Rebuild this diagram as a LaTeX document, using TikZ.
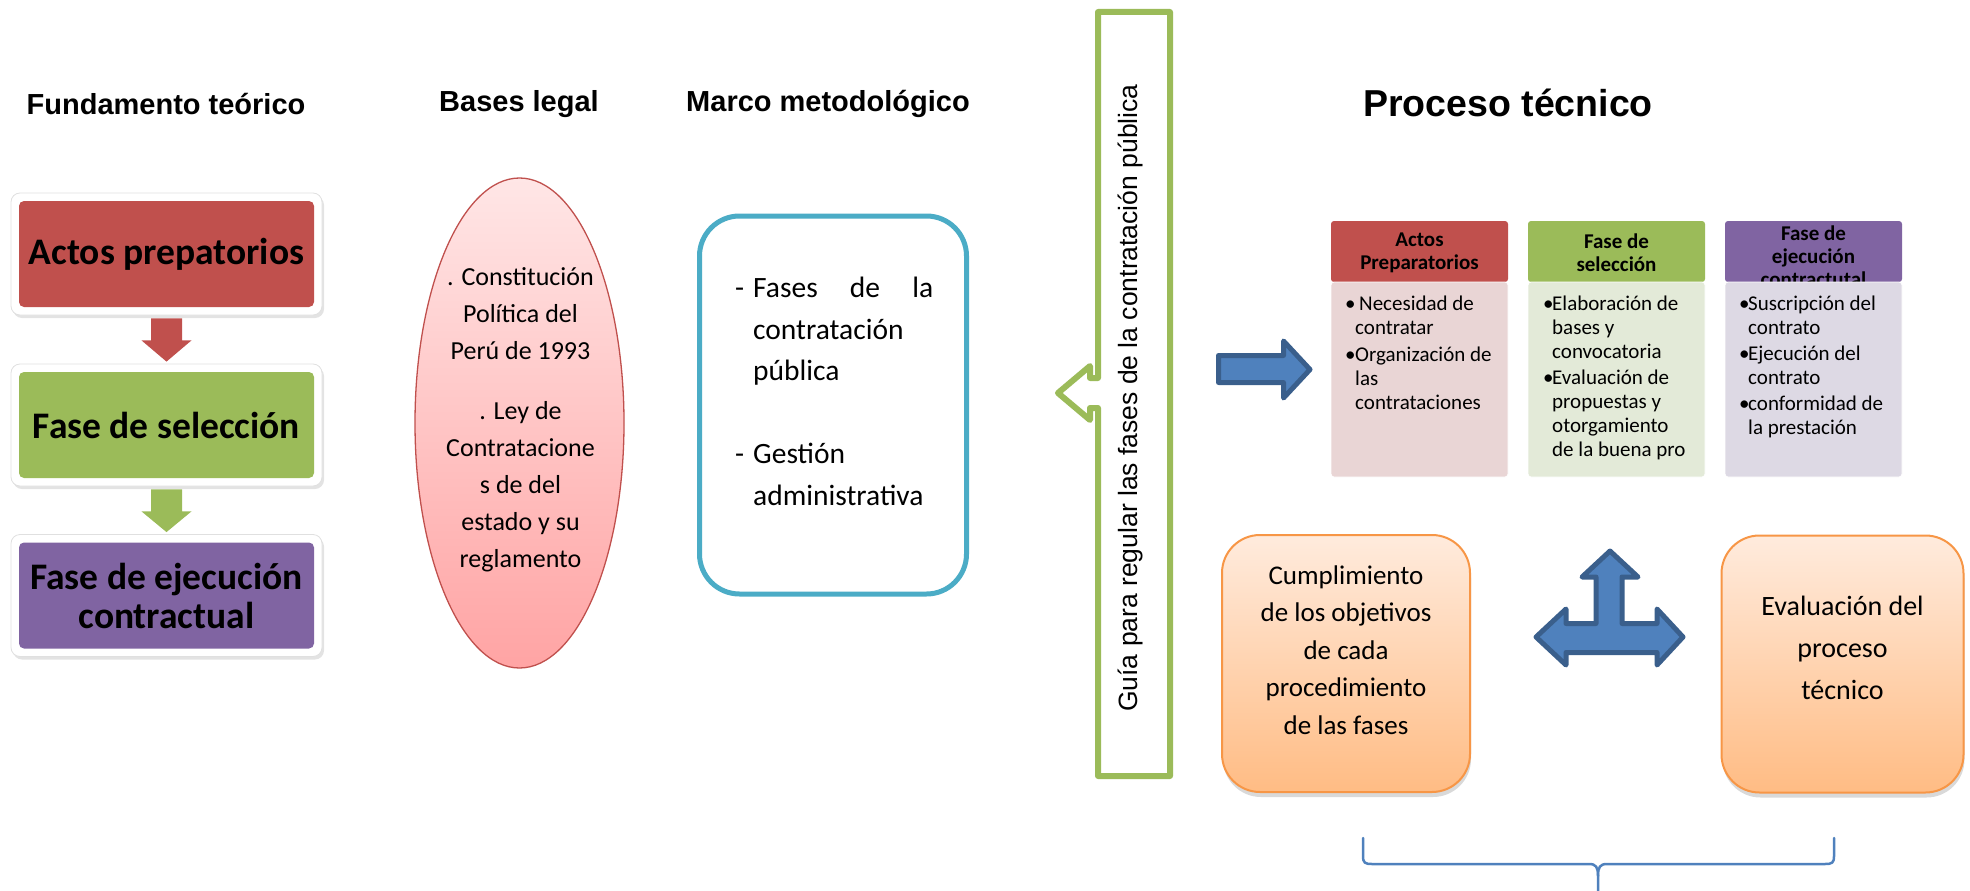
\documentclass[tikz,border=0pt]{standalone}
\usepackage{fontspec}
\newfontfamily\carlito{Carlito}
\newfontfamily\arialf{Liberation Sans}
\usetikzlibrary{shapes.geometric,shadows,calc}
\definecolor{redc}{HTML}{C0504D}
\definecolor{greenc}{HTML}{9BBB59}
\definecolor{purplec}{HTML}{8064A2}
\definecolor{cyanc}{HTML}{4BACC6}
\definecolor{bluef}{HTML}{4F81BD}
\definecolor{blued}{HTML}{3A5F8C}
\definecolor{orangec}{HTML}{F79646}
\definecolor{redbody}{HTML}{E9D5D5}
\definecolor{greenbody}{HTML}{E3EAD8}
\definecolor{purplebody}{HTML}{DDD9E4}
\definecolor{pinktop}{HTML}{FFE6E6}
\definecolor{pinkbot}{HTML}{FFA4A4}
\definecolor{orangetop}{HTML}{FFEBDD}
\definecolor{orangebot}{HTML}{FFBC84}
\newcommand\blockdown[3]{\fill[#1] ($(#2.south)+(-15.5,3)$) -- ($(#2.south)+(15.5,3)$) -- ($(#2.south)+(15.5,25)$) -- ($(#2.south)+(25,25)$) -- ($(#3.north)+(0,-2)$) -- ($(#2.south)+(-25,25)$) -- ($(#2.south)+(-15.5,25)$) -- cycle;}
\begin{document}
\begin{tikzpicture}[x=1pt,y=-1pt,
 title/.style={font=\arialf\bfseries\fontsize{29}{34}\selectfont, inner sep=0},
 frame/.style={fill=white, draw=black!12, line width=0.8pt, rounded corners=9pt, minimum width=311pt, minimum height=122pt, inner sep=0, drop shadow={shadow xshift=2pt, shadow yshift=-3pt, opacity=0.22}},
 lbox/.style={rounded corners=5pt, minimum width=295pt, minimum height=106pt, inner sep=0, align=center, font=\carlito\bfseries\fontsize{37.5}{39}\selectfont},
 hdr/.style={minimum width=177pt, minimum height=61pt, rounded corners=3pt, inner sep=0},
 htext/.style={font=\carlito\bfseries\fontsize{21}{23}\selectfont, align=center, inner sep=0},
 bodyb/.style={minimum width=177pt, minimum height=195pt, rounded corners=3pt, inner sep=0, draw=white, line width=0.8pt},
 btext/.style={font=\carlito\fontsize{21}{24}\selectfont, align=left, inner sep=0, anchor=north west},
 obox/.style={draw=orangec, line width=2pt, rounded corners=38pt, top color=orangetop, bottom color=orangebot, minimum width=248pt, minimum height=257pt, inner sep=0, drop shadow={shadow xshift=1pt, shadow yshift=-5pt, opacity=0.3}},
 otext/.style={font=\carlito\fontsize{27}{37.5}\selectfont, align=center, inner sep=0},
 bigarrow/.style={fill=bluef, draw=blued, line width=5pt, line join=round}
]
\useasboundingbox (0,0) rectangle (1970,891);

% titles
\node[title] (tf) at (166,104) {Fundamento teórico};
\node[title] (tb) at (519,104) {Bases legal};
\node[title] (tm) at (828,104) {Marco metodológico};
\node[title, font=\arialf\bfseries\fontsize{37.5}{44}\selectfont] (tp) at (1508,103) {Proceso técnico};

% left column
\node[frame] (f1) at (166.5,254) {};
\node[lbox, fill=redc] (b1) at (f1.center) {Actos prepatorios};
\node[frame] (f2) at (166.5,425) {};
\node[lbox, fill=greenc] (b2) at (f2.center) {Fase de selección};
\node[frame] (f3) at (166.5,595.5) {};
\node[lbox, fill=purplec] (b3) at (f3.center) {Fase de ejecución\\contractual};
\blockdown{redc}{f1}{f2}
\blockdown{greenc}{f2}{f3}

% ellipse
\node[ellipse, draw=redc, line width=1.3pt, top color=pinktop, bottom color=pinkbot, minimum width=209pt, minimum height=490pt, inner sep=0] (el) at (519.5,423) {};
\node[font=\carlito\fontsize{26}{37}\selectfont, align=center, inner sep=0] (elt) at (520.5,420) {. Constitución\\Política del\\Perú de 1993\\[23pt]. Ley de\\Contratacione\\s de del\\estado y su\\reglamento};

% marco box
\node[draw=cyanc, line width=5pt, rounded corners=40pt, minimum width=267pt, minimum height=378pt, fill=white, inner sep=0] (mb) at (833,405) {};
\node[anchor=north west, inner sep=0, text width=198pt, align=left, font=\carlito\fontsize{29.5}{41.5}\selectfont] (mt) at (735,277) {\makebox[18pt][l]{-}Fases\hfill de\hfill la\\\hspace*{18pt}contratación\\\hspace*{18pt}pública\\[41.5pt]\makebox[18pt][l]{-}Gestión\\\hspace*{18pt}administrativa};

% green callout
\draw[greenc, line width=6pt, line join=round, fill=white] (1098,12) -- (1170,12) -- (1170,776) -- (1098,776) -- (1098,408) -- (1090,408) -- (1090,420) -- (1058,393) -- (1090,366) -- (1090,378) -- (1098,378) -- cycle;
\node[rotate=90, anchor=base, font=\arialf\fontsize{26.5}{30}\selectfont, inner sep=0] (gt) at (1137,398) {Guía para regular las fases de la contratación pública};

% right arrow
\draw[bigarrow] (1218.5,355.5) -- (1283.5,355.5) -- (1283.5,341) -- (1310,369.5) -- (1283.5,398) -- (1283.5,382.5) -- (1218.5,382.5) -- cycle;

% table
\node[hdr, fill=redc] (h1) at (1419.5,251.5) {};
\node[hdr, fill=greenc] (h2) at (1616.5,251.5) {};
\node[hdr, fill=purplec] (h3) at (1813.5,251.5) {};
\node[htext] (h1t) at (1419.5,253) {Actos\\Preparatorios};
\node[htext] (h2t) at (1616.5,253) {Fase de\\selección};
\node[htext] (h3t) at (1813.5,256) {Fase de\\ejecución\\contractutal};
\node[bodyb, fill=redbody] (d1) at (1419.5,379.5) {};
\node[bodyb, fill=greenbody] (d2) at (1616.5,379.5) {};
\node[bodyb, fill=purplebody] (d3) at (1813.5,379.5) {};
\node[btext] (d1t) at (1345,296) {\makebox[14pt][l]{\textbullet}Necesidad de\\\hspace*{10pt}contratar\\[3pt]\makebox[10pt][l]{\textbullet}Organización de\\\hspace*{10pt}las\\\hspace*{10pt}contrataciones};
\node[btext] (d2t) at (1543,296) {\makebox[9pt][l]{\textbullet}Elaboración de\\\hspace*{9pt}bases y\\\hspace*{9pt}convocatoria\\[2pt]\makebox[9pt][l]{\textbullet}Evaluación de\\\hspace*{9pt}propuestas y\\\hspace*{9pt}otorgamiento\\\hspace*{9pt}de la buena pro};
\node[btext] (d3t) at (1739,296) {\makebox[9pt][l]{\textbullet}Suscripción del\\\hspace*{9pt}contrato\\[2pt]\makebox[9pt][l]{\textbullet}Ejecución del\\\hspace*{9pt}contrato\\[2pt]\makebox[9pt][l]{\textbullet}conformidad de\\\hspace*{9pt}la prestación};

% orange boxes
\node[obox] (o1) at (1346,663.5) {};
\node[obox, minimum width=242pt] (o2) at (1842.5,664) {};
\node[otext] (o1t) at (1346,650) {Cumplimiento\\de los objetivos\\de cada\\procedimiento\\de las fases};
\node[otext, font=\carlito\fontsize{28}{42}\selectfont] (o2t) at (1842.5,648) {Evaluación del\\proceso\\técnico};

% cross arrow
\draw[bigarrow] (1610,551) -- (1638,577) -- (1622,577) -- (1622,623.5) -- (1657,623.5) -- (1657,609) -- (1683,637) -- (1657,665) -- (1657,652.5) -- (1566,652.5) -- (1566,665) -- (1536,637) -- (1566,609) -- (1566,623.5) -- (1596,623.5) -- (1596,577) -- (1582,577) -- cycle;

% brace
\draw[bluef, line width=2.5pt, line cap=round] (1363,838) -- (1363,856) .. controls (1363,863) and (1365,864) .. (1372,864) -- (1589,864) .. controls (1596,864) and (1598,867) .. (1598,876) -- (1598,895);
\draw[bluef, line width=2.5pt, line cap=round] (1834,838) -- (1834,856) .. controls (1834,863) and (1832,864) .. (1825,864) -- (1607,864) .. controls (1600,864) and (1598,867) .. (1598,876);
\end{tikzpicture}
\end{document}
